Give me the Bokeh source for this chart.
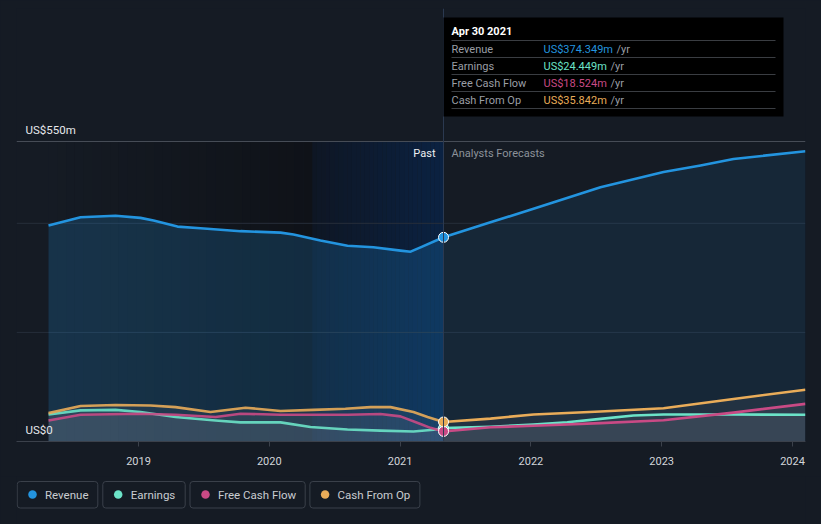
from bokeh.plotting import figure
from bokeh.layouts import column
from bokeh.models import Range1d, FixedTicker, Span, Label, BoxAnnotation, ColumnDataSource
from bokeh.core.properties import value
from bokeh.embed import file_html
from bokeh.resources import INLINE

# ---------------- data (US$ millions, x in fractional years) ----------------
rev_past_x = [2018.312, 2018.557, 2018.824, 2019.015, 2019.115, 2019.298, 2019.474, 2019.780,
              2020.086, 2020.185, 2020.391, 2020.598, 2020.796, 2021.003, 2021.080, 2021.156, 2021.332]
rev_past_y = [396, 411, 414, 410, 405, 394, 391, 385.6, 383, 379.5, 368.5, 359, 356, 350, 348, 356, 374.349]
rev_fc_x = [2021.332, 2021.691, 2022.020, 2022.532, 2023.014, 2023.297, 2023.549, 2024.099]
rev_fc_y = [374.349, 402, 426.6, 466, 494, 506, 518, 532]

earn_past_x = [2018.312, 2018.557, 2018.824, 2019.015, 2019.283, 2019.589, 2019.780, 2020.086,
               2020.315, 2020.598, 2020.850, 2021.102, 2021.255, 2021.332]
earn_past_y = [49.5, 57, 58, 54, 45, 38.5, 35, 35, 26.5, 22, 20, 18.3, 21.4, 24.449]
earn_fc_x = [2021.332, 2021.691, 2022.020, 2022.278, 2022.532, 2022.784, 2023.014, 2023.549, 2024.099]
earn_fc_y = [24.449, 27, 31, 35.4, 41.5, 47.7, 49.5, 49.5, 49]

fcf_past_x = [2018.312, 2018.557, 2019.015, 2019.283, 2019.589, 2019.780, 2020.086, 2020.598,
              2020.850, 2021.003, 2021.156, 2021.232, 2021.332]
fcf_past_y = [38.5, 49, 51, 49, 45, 51, 49, 49, 50.5, 46, 32, 25, 18.524]
fcf_fc_x = [2021.332, 2021.691, 2022.020, 2022.532, 2023.014, 2023.549, 2024.099]
fcf_fc_y = [18.524, 26, 29, 33.6, 39, 53, 69]

cfo_past_x = [2018.312, 2018.557, 2018.824, 2019.092, 2019.283, 2019.551, 2019.818, 2020.086,
              2020.338, 2020.582, 2020.774, 2020.927, 2021.102, 2021.210, 2021.332]
cfo_past_y = [52, 65, 67, 66, 63, 54, 62, 56, 58, 60, 63, 63, 54, 45, 35.842]
cfo_fc_x = [2021.332, 2021.691, 2022.020, 2022.532, 2023.014, 2023.549, 2024.099]
cfo_fc_y = [35.842, 42, 49.5, 55, 61, 78, 95]

year_ticks = [2019, 2020, 2021, 2022, 2023, 2024]
grid_vals = [200, 400]
y_top_label = "US$550m"
y_top_val = 550
y_zero_label = "US$0"

series_names = ["Revenue", "Earnings", "Free Cash Flow", "Cash From Op"]
series_colors = ["#2394df", "#6ce3c8", "#c94a85", "#e9ac59"]
tip_date = "Apr 30 2021"
tip_values = ["US$374.349m", "US$24.449m", "US$18.524m", "US$35.842m"]
now_x = 2021.332
highlight_start = 2020.33

# ---------------- layout helpers (page pixel -> data) ----------------
X0 = 2018.0673
PXY = 130.8           # px per year
PYM = 300.0 / 550.0   # px per million


def xd(px):
    return X0 + (px - 16) / PXY


def yd(py):
    return (441 - py) / PYM


BG = "#151b24"
FONT = "Roboto"

p = figure(width=821, height=476, output_backend="svg", toolbar_location=None,
           x_range=Range1d(xd(16), xd(805)), y_range=Range1d(yd(441), yd(8)),
           y_axis_location=None, min_border_left=16, min_border_right=16,
           min_border_top=8, min_border_bottom=35)
p.background_fill_color = BG
p.border_fill_color = BG
p.outline_line_color = None
p.xgrid.visible = False
p.ygrid.visible = False


# ---------------- background shading (gradient strips) ----------------
def hexmix(c1, c2, t):
    a = [int(c1[i:i + 2], 16) for i in (1, 3, 5)]
    b = [int(c2[i:i + 2], 16) for i in (1, 3, 5)]
    return "#%02x%02x%02x" % tuple(int(round(a[k] + (b[k] - a[k]) * t)) for k in range(3))


def strips(x0, x1, c0, c1, n=30):
    L, R, C = [], [], []
    for i in range(n):
        L.append(x0 + (x1 - x0) * i / n)
        R.append(x0 + (x1 - x0) * (i + 1) / n)
        C.append(hexmix(c0, c1, (i + 0.5) / n))
    return ColumnDataSource(dict(left=L, right=R, color=C))


p.quad(left="left", right="right", bottom=0, top=y_top_val, fill_color="color", line_color=None,
       source=strips(rev_past_x[0], highlight_start, BG, "#0f1218"), level="underlay")
p.quad(left="left", right="right", bottom=0, top=y_top_val, fill_color="color", line_color=None,
       source=strips(highlight_start, now_x, "#0e1624", "#0b2242"), level="underlay")

for g in grid_vals:
    p.add_layout(Span(location=g, dimension="width", line_color="#262e3a", line_width=1, level="underlay"))
p.add_layout(Span(location=y_top_val, dimension="width", line_color="#464c56", line_width=1, level="underlay"))

# ---------------- areas ----------------
p.varea(x=rev_past_x, y1=0, y2=rev_past_y, fill_color=series_colors[0], fill_alpha=0.20)
p.varea(x=rev_fc_x, y1=0, y2=rev_fc_y, fill_color=series_colors[0], fill_alpha=0.10)
for xs, ys in [(cfo_past_x, cfo_past_y), (fcf_past_x, fcf_past_y), (earn_past_x, earn_past_y),
               (cfo_fc_x, cfo_fc_y), (fcf_fc_x, fcf_fc_y), (earn_fc_x, earn_fc_y)]:
    p.varea(x=xs, y1=0, y2=ys, fill_color="#c8c8d0", fill_alpha=0.07)

# ---------------- lines ----------------
all_series = [
    (rev_past_x, rev_past_y, rev_fc_x, rev_fc_y),
    (earn_past_x, earn_past_y, earn_fc_x, earn_fc_y),
    (fcf_past_x, fcf_past_y, fcf_fc_x, fcf_fc_y),
    (cfo_past_x, cfo_past_y, cfo_fc_x, cfo_fc_y),
]
for (px_, py_, fx_, fy_), col in zip(all_series, series_colors):
    p.line(px_, py_, line_color=col, line_width=2.6, line_alpha=0.9 if col != series_colors[0] else 1,
           line_join="round")
    p.line(fx_, fy_, line_color=col, line_width=2.6, line_join="round")

# vertical "now" line
p.add_layout(Span(location=now_x, dimension="height", line_color="#2c3a52", line_width=1))

# markers at now
for (px_, py_, fx_, fy_), col in zip(all_series, series_colors):
    p.scatter([px_[-1]], [py_[-1]], size=10, fill_color=col, line_color="#ffffff", line_width=1)

# ---------------- axis ----------------
p.xaxis.ticker = FixedTicker(ticks=year_ticks)
p.xaxis.axis_line_color = "#3b414b"
p.xaxis.major_tick_line_color = "#3b414b"
p.xaxis.major_tick_out = 5
p.xaxis.major_tick_in = 0
p.xaxis.minor_tick_line_color = None
p.xaxis.major_label_text_color = "#d2d5da"
p.xaxis.major_label_text_font = FONT
p.xaxis.major_label_text_font_size = "11px"
p.xaxis.major_label_standoff = 10


# ---------------- text labels ----------------
def lab(x, y, text, color, size="11px", align="left", style="normal"):
    l = Label(x=x, y=y, text=text, text_color=color, text_font=FONT, text_font_size=size,
              text_align=align, text_baseline="middle", text_font_style=style)
    p.add_layout(l)
    return l


lab(xd(25), yd(129), y_top_label, "#e6e8eb", "11.5px")
lab(xd(25), yd(429), y_zero_label, "#e6e8eb", "11.5px")
lab(xd(435), yd(153), "Past", "#eef0f2", "11px", align="right")
lab(xd(451), yd(153), "Analysts Forecasts", "#8c929a", "11px")

# ---------------- tooltip box ----------------
p.add_layout(BoxAnnotation(left=xd(443), right=xd(783), top=yd(17), bottom=yd(116),
                           fill_color="#000000", fill_alpha=1, line_color=None, level="annotation"))
sep_y = [40, 57, 74, 91, 108]
p.segment(x0=[xd(451)] * len(sep_y), x1=[xd(775)] * len(sep_y), y0=[yd(v) for v in sep_y],
          y1=[yd(v) for v in sep_y], line_color="#3a3d42", line_width=1, level="overlay")
lab(xd(451), yd(31), tip_date, "#ffffff", "11px", style="bold")
row_y = [48.5, 65.5, 82.5, 99.5]
yr_x = [616, 610, 610, 610]
for name, val, col, ry, yx in zip(series_names, tip_values, series_colors, row_y, yr_x):
    lab(xd(451), yd(ry), name, "#9a9ea5", "11px")
    lab(xd(543), yd(ry), val, col, "11px")
    lab(xd(yx), yd(ry), "/yr", "#9a9ea5", "11px")

# ---------------- legend (separate strip under the chart; frame aligned to 16..805) ----------------
leg = figure(width=821, height=48, output_backend="svg", toolbar_location=None,
             x_range=Range1d(16, 805), y_range=Range1d(524, 476),
             x_axis_location=None, y_axis_location=None,
             min_border_left=16, min_border_right=16, min_border_top=0, min_border_bottom=0)
leg.background_fill_color = BG
leg.border_fill_color = BG
leg.outline_line_color = None
leg.xgrid.visible = False
leg.ygrid.visible = False

box_l = [16.7, 102.3, 189.5, 309.4]
box_r = [97.3, 184.7, 304.7, 419.4]
dot_x = [32, 117.7, 205, 324.6]
leg.quad(left=box_l, right=box_r, top=[481] * 4, bottom=[507.5] * 4, fill_color=BG,
         line_color="#3a404a", line_width=1, border_radius=3)
leg.scatter(dot_x, [494] * 4, size=8.5, fill_color=series_colors, line_color=None)
leg.text(x=[d + 12.5 for d in dot_x], y=[494.5] * 4, text=series_names, text_color="#c9ccd1",
         text_font=value(FONT), text_font_size="11.5px", text_baseline="middle", text_align="left")

layout = column(p, leg, spacing=0)
layout.styles = {"background-color": BG}

html = file_html(layout, INLINE)
html = html.replace("<body>", '<body style="background:%s;">' % BG, 1)
open("out.html", "w").write(html)
